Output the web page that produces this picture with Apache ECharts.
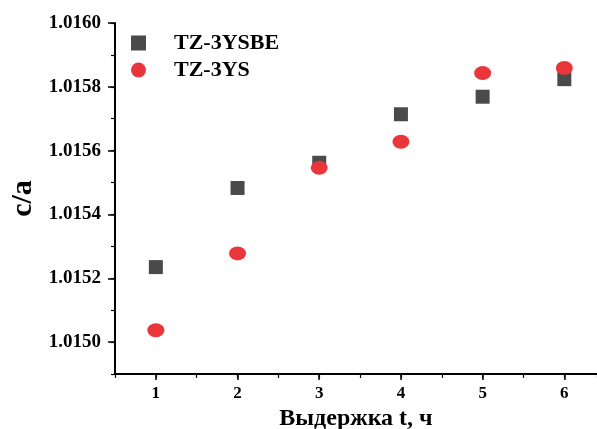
<!DOCTYPE html>
<html>
<head>
<meta charset="utf-8">
<script src="https://cdn.jsdelivr.net/npm/echarts@6/dist/echarts.min.js"></script>
<style>
  html, body { margin: 0; padding: 0; background: #fff; }
  #chart { width: 597px; height: 429px; }
</style>
</head>
<body>
<div id="chart"></div>
<script>
const hours = [1, 2, 3, 4, 5, 6];
const tz3ysbe = [1.015235, 1.015483, 1.015562, 1.015714, 1.015769, 1.015824];
const tz3ys = [1.015037, 1.015278, 1.015546, 1.015628, 1.015843, 1.015859];
const yTicks = [1.0150, 1.0152, 1.0154, 1.0156, 1.0158, 1.0160];
const xTicks = [1, 2, 3, 4, 5, 6];

const font = 'Liberation Serif';
const axisLine = { lineStyle: { color: '#000', width: 2 } };

const chart = echarts.init(document.getElementById('chart'));
chart.setOption({
    animation: false,
    grid: { left: 115, right: 0, top: 23, bottom: 55, outerBoundsMode: 'none' },
    legend: {
        orient: 'vertical',
        left: 126,
        top: 27,
        itemWidth: 15,
        itemHeight: 15,
        itemGap: 5,
        textStyle: {
            fontFamily: font, fontWeight: 'bold', fontSize: 22, color: '#000',
            lineHeight: 22, padding: [0, 0, 0, 23]
        },
        data: ['TZ-3YSBE', 'TZ-3YS']
    },
    xAxis: [
        {
            type: 'value', min: 0.5, max: 6.4,
            name: 'Выдержка t, ч', nameLocation: 'middle', nameGap: 33,
            nameTextStyle: { fontFamily: font, fontWeight: 'bold', fontSize: 24, color: '#000' },
            axisLine: axisLine,
            axisTick: { customValues: xTicks, length: 6, lineStyle: { color: '#000', width: 1.5 } },
            axisLabel: {
                customValues: xTicks, margin: 11,
                fontFamily: font, fontWeight: 'bold', fontSize: 17, color: '#000'
            },
            splitLine: { show: false }
        },
        {
            type: 'value', min: 0.5, max: 6.4, interval: 0.5, position: 'bottom',
            axisLine: { show: false },
            axisTick: { length: 4, lineStyle: { color: '#000', width: 1.2 } },
            axisLabel: { show: false },
            splitLine: { show: false }
        }
    ],
    yAxis: [
        {
            type: 'value', min: 1.0149, max: 1.0160,
            name: 'c/a', nameLocation: 'middle', nameGap: 74,
            nameTextStyle: { fontFamily: font, fontWeight: 'bold', fontSize: 30, color: '#000' },
            axisLine: axisLine,
            axisTick: { customValues: yTicks, length: 7, lineStyle: { color: '#000', width: 1.5 } },
            axisLabel: {
                customValues: yTicks, margin: 14,
                formatter: v => v.toFixed(4),
                fontFamily: font, fontWeight: 'bold', fontSize: 19, color: '#000'
            },
            splitLine: { show: false }
        },
        {
            type: 'value', min: 1.0149, max: 1.0160, interval: 0.0001, position: 'left',
            axisLine: { show: false },
            axisTick: { length: 4, lineStyle: { color: '#000', width: 1.2 } },
            axisLabel: { show: false },
            splitLine: { show: false }
        }
    ],
    series: [
        {
            name: 'TZ-3YSBE', type: 'scatter', symbol: 'rect', symbolSize: 14,
            itemStyle: { color: '#4a4a4a', opacity: 1 },
            data: hours.map((h, i) => [h, tz3ysbe[i]])
        },
        {
            name: 'TZ-3YS', type: 'scatter', symbol: 'circle', symbolSize: [17, 14],
            itemStyle: { color: '#e8363b', opacity: 1 },
            data: hours.map((h, i) => [h, tz3ys[i]])
        }
    ]
});
</script>
</body>
</html>
